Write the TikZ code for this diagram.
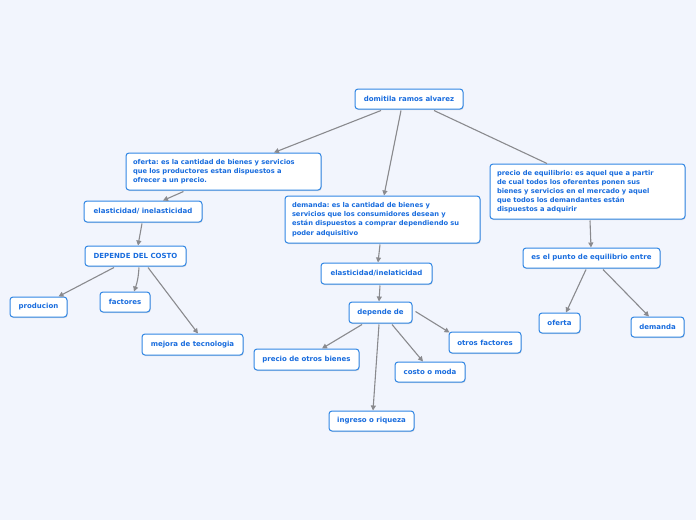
\documentclass[tikz,border=0pt]{standalone}
\usepackage{fontspec}
\setmainfont{DejaVu Sans}
\usetikzlibrary{shadows,calc,arrows.meta}
\definecolor{bg}{RGB}{242,245,253}
\definecolor{bord}{RGB}{48,134,228}
\definecolor{txt}{RGB}{24,108,222}
\definecolor{edge}{RGB}{138,138,142}
\begin{document}
\frenchspacing
\begin{tikzpicture}[x=1pt,y=-1pt,
  box/.style={draw=bord,line width=1pt,fill=white,rounded corners=3pt,
    text=txt,font=\bfseries\fontsize{7}{9}\selectfont,inner sep=0pt,
    drop shadow={shadow xshift=0.6pt,shadow yshift=-1pt,opacity=0.25,fill=gray}},
  multi/.style={box,align=left,text width=181,font=\bfseries\fontsize{6.7}{9.1}\selectfont},
  conn/.style={draw=edge,line width=1.1pt,-{Triangle[length=5pt,width=5pt]}},
  plain/.style={draw=edge,line width=1.1pt}]
\fill[bg] (0,0) rectangle (696,520);
\useasboundingbox (0,0) rectangle (696,520);
% nodes
\node[box,minimum width=108,minimum height=20] (root) at (409,99) {domitila ramos alvarez};
\node[multi,minimum width=195,minimum height=37] (ofr) at (223.5,171.5)
  {oferta: es la cantidad de bienes y servicios\\que los productores estan dispuestos a\\ofrecer a un precio.};
\node[box,minimum width=118,minimum height=21] (el1) at (143,211.5) {elasticidad/ inelasticidad};
\node[box,minimum width=101,minimum height=20] (dep1) at (135.5,256) {DEPENDE DEL COSTO};
\node[box,minimum width=57,minimum height=20] (prod) at (38.5,307) {producion};
\node[box,minimum width=50,minimum height=20] (fac) at (125,302) {factores};
\node[box,minimum width=101,minimum height=21] (mej) at (192.5,344.5) {mejora de tecnologia};
\node[multi,minimum width=195,minimum height=47] (dem) at (382.5,219.5)
  {demanda: es la cantidad de bienes y\\servicios que los consumidores desean y\\están dispuestos a comprar dependiendo su\\poder adquisitivo};
\node[box,minimum width=111,minimum height=21] (el2) at (376.5,273.5) {elasticidad/inelaticidad};
\node[box,minimum width=63,minimum height=21] (dep2) at (380.5,312.5) {depende de};
\node[box,minimum width=105,minimum height=21] (pob) at (306.5,359.5) {precio de otros bienes};
\node[box,minimum width=72,minimum height=21] (otf) at (485,342.5) {otros factores};
\node[box,minimum width=70,minimum height=20] (cos) at (430,372) {costo o moda};
\node[box,minimum width=85,minimum height=20] (ing) at (371.5,421) {ingreso o riqueza};
\node[multi,minimum width=195,minimum height=55] (peq) at (587.5,191.5)
  {precio de equilibrio: es aquel que a partir\\de cual todos los oferentes ponen sus\\bienes y servicios en el mercado y aquel\\que todos los demandantes están\\dispuestos a adquirir};
\node[box,minimum width=137,minimum height=20] (pto) at (591.5,258) {es el punto de equilibrio entre};
\node[box,minimum width=41,minimum height=20] (of2) at (559.5,323) {oferta};
\node[box,minimum width=53,minimum height=20] (de2) at (657.5,327) {demanda};
% connectors
\draw[conn] ([xshift=-28pt,yshift=-1pt]root.south) -- ([xshift=50.5pt]ofr.north);
\draw[conn] ([xshift=-8pt,yshift=-1pt]root.south) -- ([xshift=1.5pt]dem.north);
\draw[plain] ([xshift=25pt,yshift=-1pt]root.south) -- ([xshift=-40.5pt]peq.north);
\draw[conn] ([xshift=-40pt,yshift=-1pt]ofr.south) -- ([xshift=20pt]el1.north);
\draw[conn] ([xshift=-1pt,yshift=-1pt]el1.south) -- ([xshift=-5pt]el1.south |- dep1.north);
\draw[conn] ([xshift=-21.5pt,yshift=-1pt]dep1.south) -- ([xshift=20pt]prod.north);
\draw[conn] ([xshift=3.5pt,yshift=-1pt]dep1.south) to[bend left=8] ([xshift=9pt]fac.north);
\draw[conn] ([xshift=12.5pt,yshift=-1pt]dep1.south) -- ([xshift=5.5pt]mej.north);
\draw[conn] ([xshift=-2.5pt,yshift=-1pt]dem.south) -- ([xshift=1.5pt]el2.north);
\draw[conn] ([xshift=3.5pt,yshift=-1pt]el2.south) -- ([xshift=-1.5pt]dep2.north);
\draw[conn] ([xshift=-18.5pt,yshift=-1pt]dep2.south) -- ([xshift=15.5pt]pob.north);
\draw[conn] ([xshift=-1.5pt,yshift=-1pt]dep2.south) -- ([xshift=1.5pt]ing.north);
\draw[conn] ([xshift=11.5pt,yshift=-1pt]dep2.south) -- ([xshift=-7pt]cos.north);
\draw[conn] ([xshift=3pt,yshift=1pt]dep2.east) -- ([xshift=1pt,yshift=-1pt]otf.north west);
\draw[conn] ([xshift=2.5pt,yshift=-1pt]peq.south) -- ([xshift=-0.5pt]pto.north);
\draw[conn] ([xshift=-5.5pt,yshift=-1pt]pto.south) -- ([xshift=6.5pt]of2.north);
\draw[conn] ([xshift=11.5pt,yshift=-1pt]pto.south) -- ([xshift=-8.5pt]de2.north);
\end{tikzpicture}
\end{document}
